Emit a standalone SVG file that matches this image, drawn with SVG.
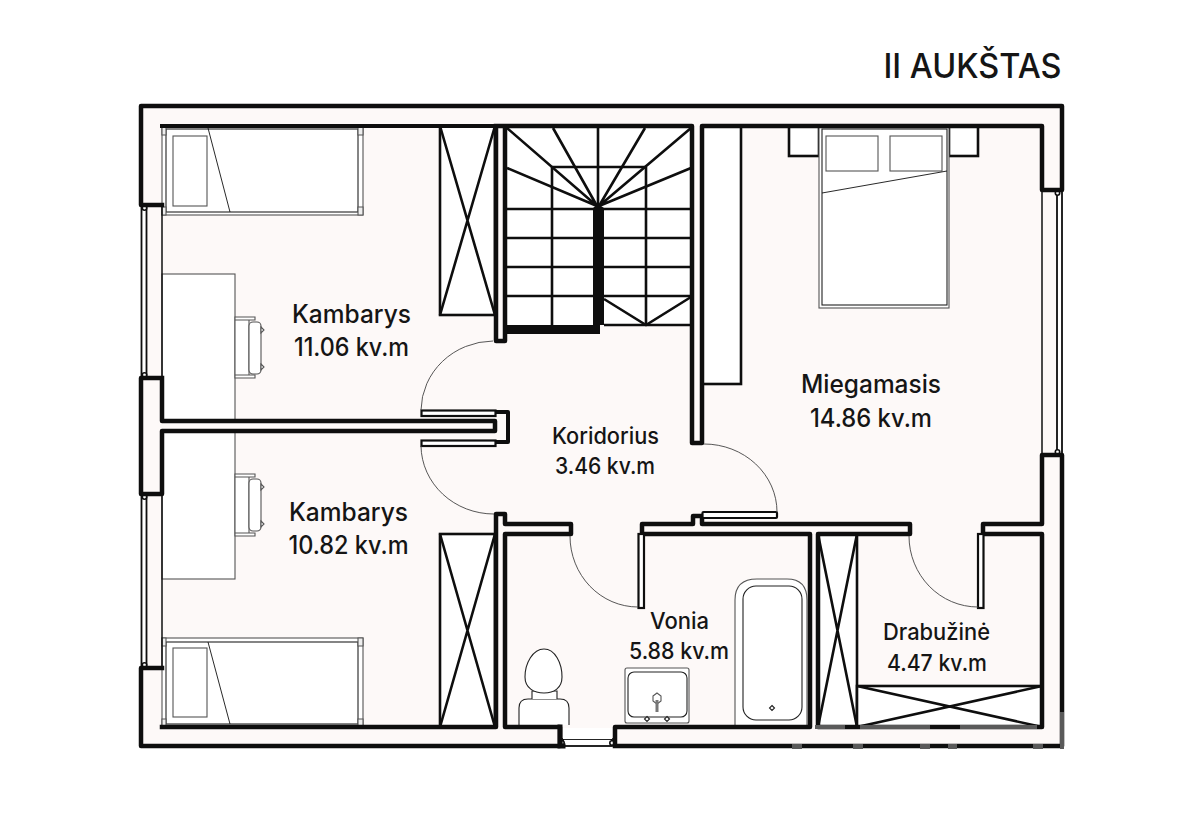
<svg xmlns="http://www.w3.org/2000/svg" width="1200" height="815" viewBox="0 0 1200 815">
<style>
.w{fill:none;stroke:#0e0e0e;stroke-width:4.5;stroke-linejoin:round;stroke-linecap:square}
.s{fill:none;stroke:#0e0e0e;stroke-width:2.6;stroke-linecap:butt}
.c{fill:#fff;stroke:#0e0e0e;stroke-width:2.6}
.t{fill:#fff;stroke:#222;stroke-width:1.1}
.g{fill:#fff;stroke:#555;stroke-width:1.1}
.a{fill:none;stroke:#444;stroke-width:.9}
.d{fill:#fff;stroke:#0e0e0e;stroke-width:2.2}
.l{font-family:"Inter","Liberation Sans",sans-serif;font-weight:500;fill:#151515;text-anchor:middle;font-size:25px}
.m{font-size:22.5px}
</style>
<rect width="1200" height="815" fill="#fff"/>
<rect x="141" y="106" width="921" height="641" fill="#fdf9f8"/>

<g id="stairs">
<rect x="505" y="127" width="187" height="198" fill="#fff"/>
<g class="s">
<path d="M552 167H646M552 167V325M646 167V325M598 126V206M506 209H690M506 238H690M506 267H690M506 296H690M604 325H692"/>
<path d="M507 128L597 206M553 128L597 206M645 128L599 206M691 128L599 206M507 168L597 206M691 168L599 206M604 299L646 325L691 297"/>
</g>
<path d="M593 325V208L598 204L604 208V325H600V334H506V325Z" fill="#0e0e0e"/>
</g>

<g id="closets">
<rect class="c" x="440" y="126" width="55" height="189"/>
<path class="s" d="M440 126L495 315M495 126L440 315"/>
<rect class="c" x="440" y="534" width="55" height="193"/>
<path class="s" d="M440 534L495 727M495 534L440 727"/>
<rect class="c" x="702" y="126" width="39" height="258"/>
<rect class="c" x="818" y="534" width="39" height="193"/>
<path class="s" d="M818 534L857 727M857 534L818 727"/>
<rect class="c" x="857" y="686" width="185" height="41"/>
<path class="s" d="M857 686L1042 727M1042 686L857 727"/>
</g>

<g id="bed-room1">
<rect class="g" x="162" y="127" width="201" height="88"/>
<rect class="t" x="166" y="129" width="192" height="83"/>
<rect class="g" x="173" y="136" width="34" height="70"/>
<path class="a" d="M208 128L230 212" style="stroke:#111"/>
<path class="g" d="M162 207h4v8h-4zM358 207h5v8h-5zM358 127h5v8h-5zM162 127h4v8h-4z" style="fill:#eee"/>
</g>
<g id="bed-room2">
<rect class="g" x="162" y="638" width="201" height="89"/>
<rect class="t" x="166" y="642" width="192" height="82"/>
<rect class="g" x="173" y="648" width="34" height="69"/>
<path class="a" d="M208 642L230 724" style="stroke:#111"/>
<path class="g" d="M162 638h4v8h-4zM358 638h5v8h-5zM358 719h5v8h-5zM162 719h4v8h-4z" style="fill:#eee"/>
</g>
<g id="desks">
<rect class="g" x="162" y="274" width="73" height="148"/>
<rect class="g" x="162" y="431" width="73" height="148"/>
</g>
<g id="chair1">
<path class="g" d="M235 317h20v3h-20zM235 375h20v3h-20zM235 320h14v55h-14z"/>
<rect class="g" x="249" y="322" width="12" height="52" rx="4"/>
<path class="g" d="M261 327l3 3l-3 3zM261 364l3 3l-3 3z"/>
</g>
<g id="chair2">
<path class="g" d="M235 474h20v3h-20zM235 533h20v3h-20zM235 477h14v56h-14z"/>
<rect class="g" x="249" y="479" width="12" height="52" rx="4"/>
<path class="g" d="M261 484l3 3l-3 3zM261 521l3 3l-3 3z"/>
</g>
<g id="master-bed">
<rect class="c" x="789" y="126" width="30" height="30"/>
<rect class="c" x="949" y="126" width="29" height="30"/>
<rect class="g" x="819" y="127" width="130" height="181"/>
<rect class="t" x="822" y="129" width="125" height="176"/>
<rect class="g" x="826" y="136" width="52" height="35"/>
<rect class="g" x="890" y="136" width="52" height="35"/>
<path class="a" d="M822 193L947 171" style="stroke:#111"/>
</g>
<g id="toilet">
<path class="t" d="M519 725V708Q519 699 528 699H560Q569 699 569 708V725"/>
<path class="t" d="M532 699V691H557V699"/>
<path class="t" d="M544 649C533 649 525 663 525 677C525 688 534 693 544 693C554 693 562 688 562 677C562 663 555 649 544 649Z"/>
</g>
<g id="sink">
<rect class="g" x="625" y="668" width="64" height="55" rx="2"/>
<rect class="t" x="628" y="672" width="59" height="45" rx="6"/>
<path class="g" d="M653 696l4-3l4 3v5l-4 3l-4-3z"/>
<rect x="655.500" y="700" width="3" height="12" fill="#777"/>
<path class="t" d="M647 716.500l2.500 2.500l-2.500 2.500l-2.500-2.500zM667 716.500l2.500 2.500l-2.500 2.500l-2.500-2.500z"/>
</g>
<g id="bath">
<path class="g" d="M735 727V600Q735 579 757 579H787Q807 579 807 600V727"/>
<rect class="t" x="743" y="586" width="59" height="134" rx="13"/>
<path class="t" d="M772 705.500l2.500 2.500l-2.500 2.500l-2.500-2.500z"/>
</g>

<g id="windows">
<g fill="#fff" stroke="#0e0e0e">
<rect x="141.500" y="206" width="5" height="172" stroke-width="1.800"/>
<rect x="141.500" y="494" width="5" height="173" stroke-width="1.800"/>
<rect x="1057" y="190" width="5" height="265" stroke-width="1.800"/>
<rect x="563" y="739" width="49" height="7" stroke-width="1.800"/>
</g>
<path d="M162 206V378M162 494V667M1042 190V455" fill="none" stroke="#111" stroke-width="1.500"/>
<rect x="563" y="728" width="49" height="11" fill="#fff"/>
<g fill="#fff" stroke="#0e0e0e" stroke-width="1.600">
<circle cx="144.500" cy="208" r="2.200"/><circle cx="144.500" cy="375" r="2.200"/>
<circle cx="144.500" cy="497" r="2.200"/><circle cx="144.500" cy="665" r="2.200"/>
<circle cx="1057.500" cy="193" r="2.200"/><circle cx="1057.500" cy="452" r="2.200"/>
<circle cx="562" cy="743" r="2.200"/><circle cx="612" cy="743" r="2.200"/>
</g>
</g>

<g id="walls">
<path class="w" d="M162 205H141V106H1062V190H1042V126H702V443H692V126H505V336M496 126V341H505V334M496 126H505"/>
<path class="w" d="M162 378H141V494H162V431H495V421H162V378"/>
<path class="w" d="M162 668H141V746H560V727H505V534H571V524H505V514H496V727H162"/>
<path class="w" d="M615 746H1062V455H1042V524H983V534H1042V727H818V534H910V524H702V516H693V524H642V534H810V727H615V746"/>
<path class="w" d="M162 126H496" style="stroke-width:4"/>
<path class="w" d="M560 746V727M560 746H563" style="stroke-width:5"/>
</g>
<g id="doors">
<path class="w" d="M495 412H508V442H495" style="stroke-width:4"/>
<rect class="d" x="421.500" y="410.500" width="74" height="5.500"/>
<rect class="d" x="421.500" y="440.500" width="74" height="5.500"/>
<rect class="d" x="702.500" y="512" width="74.500" height="6" rx="1"/>
<rect class="d" x="638.500" y="534" width="5.500" height="74"/>
<rect class="d" x="978" y="534" width="5.500" height="74"/>
<path class="a" d="M421 410A73 70 0 0 1 493 341M421 446A73 69 0 0 0 494 514M704 444A73 68 0 0 1 777 512M570 536A68 71 0 0 0 638 607M909 536A69 71 0 0 0 978 607"/>
</g>

<g id="watermark" fill="#5a5a5a">
<path d="M792 744h10v5h-10zM853 744h10v5h-10zM920 744h10v5h-10zM948 744h9v5h-9zM1033 744h10v5h-10zM1060 712h4v37h-4zM860 725h70v4h-70zM960 725h77v4h-77zM815 725h30v4h-30z"/>
</g>

<g id="labels">
<text class="l" x="351.500" y="323" textLength="119" lengthAdjust="spacingAndGlyphs">Kambarys</text>
<text class="l" x="351.500" y="356" textLength="115" lengthAdjust="spacingAndGlyphs">11.06 kv.m</text>
<text class="l" x="348.500" y="521" textLength="119" lengthAdjust="spacingAndGlyphs">Kambarys</text>
<text class="l" x="348.500" y="554" textLength="120" lengthAdjust="spacingAndGlyphs">10.82 kv.m</text>
<text class="l" x="871" y="393" textLength="140" lengthAdjust="spacingAndGlyphs">Miegamasis</text>
<text class="l" x="871" y="427" textLength="122" lengthAdjust="spacingAndGlyphs">14.86 kv.m</text>
<text class="l m" x="605.500" y="444" textLength="107" lengthAdjust="spacingAndGlyphs">Koridorius</text>
<text class="l m" x="605" y="474" textLength="100" lengthAdjust="spacingAndGlyphs">3.46 kv.m</text>
<text class="l m" x="679.500" y="629" textLength="59" lengthAdjust="spacingAndGlyphs">Vonia</text>
<text class="l m" x="679" y="659" textLength="100" lengthAdjust="spacingAndGlyphs">5.88 kv.m</text>
<text class="l m" x="936.500" y="640" textLength="107" lengthAdjust="spacingAndGlyphs">Drabužinė</text>
<text class="l m" x="937" y="671" textLength="100" lengthAdjust="spacingAndGlyphs">4.47 kv.m</text>
<text class="l" x="972.500" y="77.500" style="font-size:34.500px" textLength="178" lengthAdjust="spacingAndGlyphs">II AUKŠTAS</text>
</g>
</svg>
